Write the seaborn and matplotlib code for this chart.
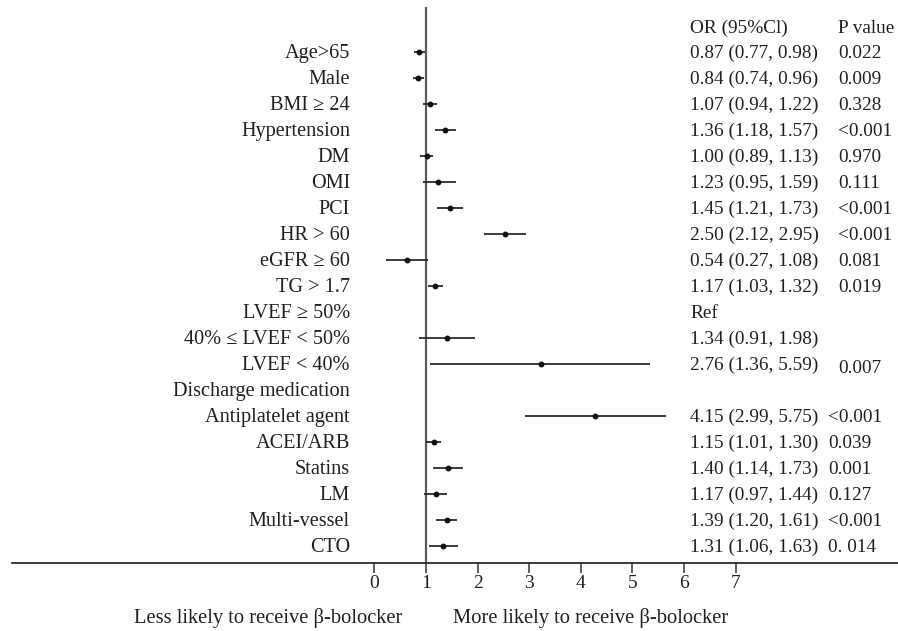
import numpy as np
import pandas as pd
import matplotlib
matplotlib.use("Agg")
import matplotlib.pyplot as plt
import seaborn as sns

# ---------------- data ----------------
labels = ["Age>65", "Male", "BMI \u2265 24", "Hypertension", "DM", "OMI", "PCI",
          "HR > 60", "eGFR \u2265 60", "TG > 1.7", "LVEF \u2265 50%",
          "40% \u2264 LVEF < 50%", "LVEF < 40%", "Discharge medication",
          "Antiplatelet agent", "ACEI/ARB", "Statins", "LM", "Multi-vessel", "CTO"]
or_point = [0.87, 0.84, 1.07, 1.37, 1.01, 1.24, 1.46, 2.53, 0.63, 1.17, np.nan,
            1.40, 3.22, np.nan, 4.28, 1.15, 1.42, 1.19, 1.40, 1.33]
ci_low = [0.77, 0.74, 0.94, 1.18, 0.89, 0.94, 1.22, 2.12, 0.22, 1.03, np.nan,
          0.87, 1.08, np.nan, 2.91, 1.00, 1.14, 0.97, 1.19, 1.06]
ci_high = [0.98, 0.96, 1.22, 1.58, 1.13, 1.59, 1.72, 2.93, 1.04, 1.32, np.nan,
           1.94, 5.35, np.nan, 5.66, 1.30, 1.71, 1.41, 1.61, 1.62]
or_text = ["0.87 (0.77, 0.98)", "0.84 (0.74, 0.96)", "1.07 (0.94, 1.22)",
           "1.36 (1.18, 1.57)", "1.00 (0.89, 1.13)", "1.23 (0.95, 1.59)",
           "1.45 (1.21, 1.73)", "2.50 (2.12, 2.95)", "0.54 (0.27, 1.08)",
           "1.17 (1.03, 1.32)", "Ref", "1.34 (0.91, 1.98)", "2.76 (1.36, 5.59)",
           "", "4.15 (2.99, 5.75)", "1.15 (1.01, 1.30)", "1.40 (1.14, 1.73)",
           "1.17 (0.97, 1.44)", "1.39 (1.20, 1.61)", "1.31 (1.06, 1.63)"]
p_text = ["0.022", "0.009", "0.328", "<0.001", "0.970", "0.111", "<0.001",
          "<0.001", "0.081", "0.019", "", "", "0.007", "", "<0.001", "0.039",
          "0.001", "0.127", "<0.001", "0. 014"]
header_or = "OR (95%Cl)"
header_p = "P value"
xticks = [0, 1, 2, 3, 4, 5, 6, 7]
left_caption = "Less likely to receive \u03b2-bolocker"
right_caption = "More likely to receive \u03b2-bolocker"

# ---------------- style ----------------
sns.set_theme(style="white")
plt.rcParams["font.family"] = ["Liberation Serif", "DejaVu Serif"]
TXT = "#231f20"
FS_LAB = 14.6
FS_COL = 13.9
FS_CAP = 14.8

W, H = 898, 631
fig = plt.figure(figsize=(W / 100, H / 100), dpi=100)

# pixel geometry of the axes
ax_l, ax_r, ax_t, ax_b = 11.7, 898.0, 7.0, 562.7
ax = fig.add_axes([ax_l / W, 1 - ax_b / H, (ax_r - ax_l) / W, (ax_b - ax_t) / H])

PX1, PXU = 426.0, 51.6      # pixel of x=1, pixels per unit
PY0, PYU = 52.0, 26.0       # pixel of row 0, pixels per row


def px_to_x(px):
    return 1 + (px - PX1) / PXU


ax.set_xlim(px_to_x(ax_l), px_to_x(ax_r))
ax.set_ylim((ax_b - PY0) / PYU, (ax_t - PY0) / PYU)

rows = np.arange(len(labels))
df = pd.DataFrame({"row": rows, "or": or_point, "lo": ci_low, "hi": ci_high})

# reference line
ax.axvline(1, color="#5c5c5c", lw=1.6, zorder=1)

# confidence intervals and points
d = df.dropna()
ax.hlines(d["row"], d["lo"], d["hi"], color="#2b2b2b", lw=1.3, zorder=2)
sns.scatterplot(data=d, x="or", y="row", color="#111111", s=18, linewidth=0,
                ax=ax, zorder=3, legend=False)

# row labels, OR text, p values
base_off = 6.3 / PYU
for i in rows:
    ax.text(px_to_x(350), i + base_off, labels[i], ha="right", va="baseline",
            fontsize=FS_LAB, color=TXT)
    if or_text[i]:
        ax.text(px_to_x(690), i + base_off, or_text[i], ha="left", va="baseline",
                fontsize=FS_COL, color=TXT)
    if p_text[i]:
        pxp = 838 if i < 13 else 828
        dy = 2.5 / PYU if i == 12 else 0
        ax.text(px_to_x(pxp), i + base_off + dy, p_text[i], ha="left",
                va="baseline", fontsize=FS_COL, color=TXT)

ax.text(px_to_x(690), -1 + 7.3 / PYU, header_or, ha="left", va="baseline",
        fontsize=FS_COL, color=TXT)
ax.text(px_to_x(838), -1 + 7.3 / PYU, header_p, ha="left", va="baseline",
        fontsize=FS_COL, color=TXT)

# axes styling
for s in ["top", "left", "right"]:
    ax.spines[s].set_visible(False)
ax.spines["bottom"].set_color("#1a1a1a")
ax.spines["bottom"].set_linewidth(1.2)
ax.set_yticks([])
ax.set_xticks(xticks)
ax.set_xticklabels([str(t) for t in xticks])
ax.tick_params(axis="x", direction="out", length=7.2, width=1.1, color="#333333",
               labelsize=14, labelcolor=TXT, pad=2.0, bottom=True)
ax.set_xlabel("")
ax.set_ylabel("")
ax.grid(False)

# captions
fig.text(402 / W, 1 - 623.3 / H, left_caption, ha="right", va="baseline",
         fontsize=FS_CAP, color=TXT)
fig.text(453 / W, 1 - 623.3 / H, right_caption, ha="left", va="baseline",
         fontsize=FS_CAP, color=TXT)

fig.savefig("out.png", dpi=100)
